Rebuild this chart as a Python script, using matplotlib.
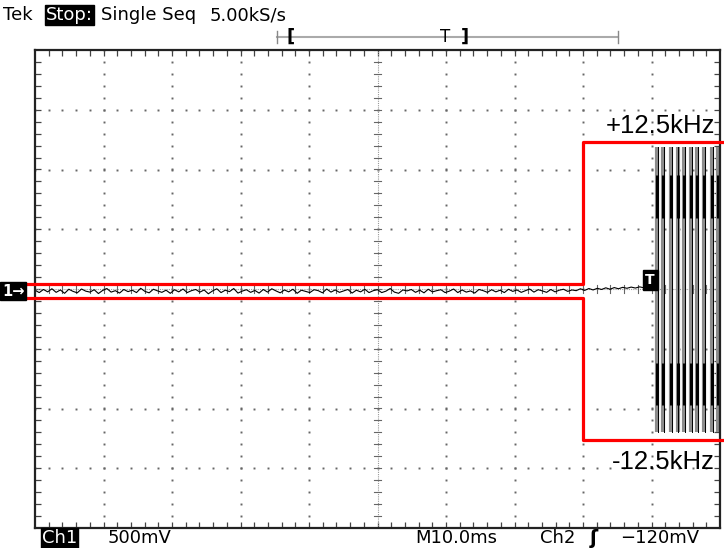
import numpy as np
import matplotlib.pyplot as plt
from matplotlib.lines import Line2D

# scope settings: 10 ms/div, 500 mV/div -> x in ms, y in V
noise_mv = [
    -10, -30, -4, -24, 2, -28, -8, -36, -2, -20,
    -32, 0, -18, -26, -6, -38, -12, 4, -26, -14,
    -34, -4, -22, -10, -30, 6, -20, -32, -2, -16,
    -28, -10, -36, -6, -24, 0, -30, -14, -4, -26,
    -8, -40, -16, 2, -30, -10, -22, 4, -34, -18,
    -6, -28, -12, -34, -4, -26, 2, -16, -32, -8,
    -24, -2, -36, -10, -20, -30, -6, -14, -32, 0,
    -26, -8, -28, -16, -4, -34, -10, -24, -2, -30,
    -14, -6, -30, -18, 4, -26, -36, -8, -16, -4,
    -28, -10, -32, -2, -24, -14, -6, -30, -18, 0,
    -30, -8, -26, -16, -34, -4, -14, -28, -6, -24,
    -10, -30, -2, -20, -8, -28, -14, 0, -26, -6,
    -16, -28, -4, -24, -10, -2, -20, -8, -14, 2,
    -12, 4, -8, 6, -4, 10, -2, 12, 2, 14,
    6, 16, 8, 18, 10, 14,
]
trace_end_ms = 89.5

# burst after trigger
pulse_ms = [90.8, 91.7, 92.8, 93.8, 94.7, 95.8, 96.7, 97.7, 98.8, 99.7]
pulse_top, pulse_bot = 1.19, -1.20
black_hi = (0.95, 0.59)
black_lo = (-0.62, -0.97)

# red frequency mask (+/-12.5 kHz)
mask_t = [-1.5, 80, 80, 100.4]
mask_upper = [0.04, 0.04, 1.23, 1.23]
mask_lower = [-0.075, -0.075, -1.26, -1.26]

trig_ms, trig_v = 89.8, 0.075

W, H = 724, 548
fig = plt.figure(figsize=(W / 100, H / 100), dpi=100)
ax = fig.add_axes([35 / W, 20 / H, 685 / W, 478 / H])
ax.set_xlim(0, 100)
ax.set_ylim(-2, 2)


def px(x, y):
    return x / W, 1 - y / H


# dotted graticule
gx = np.arange(0, 100.01, 2)
gy = np.arange(-2, 2.001, 0.1)
for k in [10, 20, 30, 40, 60, 70, 80, 90]:
    ax.plot(np.full_like(gy, k), gy, ls='none', marker='s', ms=1.4, mew=0, color='#666666')
for v in [-1.5, -1, -0.5, 0.5, 1, 1.5]:
    ax.plot(gx, np.full_like(gx, v), ls='none', marker='s', ms=1.4, mew=0, color='#666666')

# centre cross with ticks
ax.axvline(50, color='#999999', lw=0.8, ls=(0, (1, 1)))
ax.axhline(0, color='#999999', lw=0.8, ls=(0, (1, 1)))
for yy in gy:
    ax.plot([49.55, 50.45], [yy, yy], color='#666666', lw=0.8)
for xx in gx:
    ax.plot([xx, xx], [-0.035, 0.035], color='#666666', lw=0.8)

ax.set_xticks(np.arange(2, 100, 2))
ax.set_yticks(np.arange(-1.9, 1.95, 0.1))
ax.tick_params(direction='in', length=4, width=0.9, color='#444444',
               top=True, right=True, labelbottom=False, labelleft=False)
for s in ax.spines.values():
    s.set_linewidth(1.6)
    s.set_color('#222222')

# noise trace
t = np.linspace(0, trace_end_ms, len(noise_mv))
ax.plot(t, np.array(noise_mv) / 1000, color='black', lw=0.8)

# burst
for p in pulse_ms:
    ax.plot([p, p], [pulse_top, pulse_bot], color='#8c8c8c', lw=3.0, solid_capstyle='butt')
    ax.plot([p + 0.12, p + 0.12], [pulse_top, pulse_bot], color='black', lw=0.7)
    ax.plot([p, p], black_hi, color='black', lw=2.2, solid_capstyle='butt')
    ax.plot([p, p], black_lo, color='black', lw=2.2, solid_capstyle='butt')

# red mask
ax.plot(mask_t, mask_upper, color='#ff0000', lw=2.3, clip_on=False, zorder=5)
ax.plot(mask_t, mask_lower, color='#ff0000', lw=2.3, clip_on=False, zorder=5)

# trigger marker
ax.text(trig_ms, trig_v, 'T', color='white', fontsize=10, fontweight='bold',
        ha='center', va='center', zorder=6,
        bbox=dict(boxstyle='square,pad=0.2', fc='black', ec='black'))

# channel marker
fig.text(*px(2, 291), '1\u2192', color='white', fontsize=10.5, fontweight='bold',
         ha='left', va='center',
         bbox=dict(boxstyle='square,pad=0.12', fc='black', ec='black'))

# labels
fig.text(*px(715, 126), '+12.5kHz', ha='right', va='center', fontsize=18.5,
         family='Liberation Sans')
fig.text(*px(715, 462), '-12.5kHz', ha='right', va='center', fontsize=18.5,
         family='Liberation Sans')

# header
hy = 15
fs = 13
fig.text(*px(3, hy), 'Tek', ha='left', va='center', fontsize=fs)
fig.text(*px(46, hy), 'Stop:', ha='left', va='center', fontsize=fs, color='white',
         bbox=dict(boxstyle='square,pad=0.05', fc='black', ec='black'))
fig.text(*px(101, hy), 'Single Seq', ha='left', va='center', fontsize=fs)
fig.text(*px(210, hy), '5.00kS/s', ha='left', va='center', fontsize=fs)

# record bar
by = 37
fig.add_artist(Line2D([277 / W, 618 / W], [1 - by / H] * 2, color='#aaaaaa', lw=1.5))
for bx in [277, 618]:
    fig.add_artist(Line2D([bx / W] * 2, [1 - 31 / H, 1 - 43 / H], color='#888888', lw=1))
fig.text(*px(291, by), '[', ha='center', va='center', fontsize=13, fontweight='bold')
fig.text(*px(445, by), 'T', ha='center', va='center', fontsize=12)
fig.text(*px(465, by), ']', ha='center', va='center', fontsize=13, fontweight='bold')

# footer
fy = 538
fig.text(*px(42, fy), 'Ch1', ha='left', va='center', fontsize=fs, color='white',
         bbox=dict(boxstyle='square,pad=0.05', fc='black', ec='black'))
fig.text(*px(108, fy), '500mV', ha='left', va='center', fontsize=fs)
fig.text(*px(415, fy), 'M10.0ms', ha='left', va='center', fontsize=fs)
fig.text(*px(540, fy), 'Ch2', ha='left', va='center', fontsize=fs)
fig.text(*px(590, fy), '\u0283', ha='left', va='center', fontsize=14, fontweight='bold')
fig.text(*px(620, fy), '\u2212120mV', ha='left', va='center', fontsize=fs)

fig.savefig('out.png', dpi=100)
